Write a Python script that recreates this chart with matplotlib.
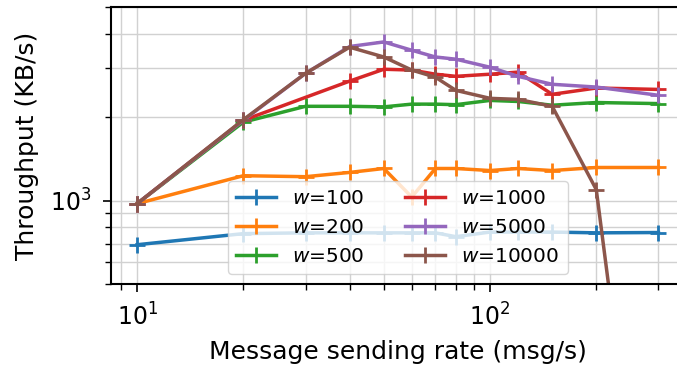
import matplotlib
matplotlib.use("Agg")
import matplotlib.pyplot as plt
from matplotlib.ticker import NullFormatter

# message sending rates (msg/s)
rates = [10, 20, 30, 40, 50, 60, 70, 80, 100, 120, 150, 200, 300]
rates_w1000 = [10, 20, 40, 50, 60, 70, 80, 100, 120, 150, 200, 300]

# throughput (KB/s) per window size
tp_w100 = [693, 760, 765, 765, 765, 765, 765, 741, 770, 770, 770, 765, 767]
tp_w200 = [975, 1230, 1220, 1264, 1306, 1030, 1306, 1306, 1284, 1306, 1284, 1317, 1317]
tp_w500 = [975, 1920, 2190, 2190, 2180, 2230, 2230, 2220, 2300, 2280, 2210, 2260, 2240]
tp_w1000 = [975, 1950, 2700, 2980, 2960, 2860, 2810, 2860, 2910, 2420, 2550, 2520]
tp_w5000 = [975, 1950, 2880, 3600, 3740, 3490, 3300, 3240, 3030, 2810, 2630, 2570, 2400]
tp_w10000 = [975, 1960, 2880, 3580, 3300, 2960, 2790, 2500, 2340, 2320, 2190, 1096, 20]

series = [
    ("$w$=100", rates, tp_w100),
    ("$w$=200", rates, tp_w200),
    ("$w$=500", rates, tp_w500),
    ("$w$=1000", rates_w1000, tp_w1000),
    ("$w$=5000", rates, tp_w5000),
    ("$w$=10000", rates, tp_w10000),
]

fig = plt.figure(figsize=(6.77, 3.69), dpi=100)
ax = fig.add_axes([111 / 677, 1 - 284 / 369, (684.5 - 111) / 677, (284 - 7) / 369])

for label, x, y in series:
    ax.plot(x, y, marker="+", markersize=12, markeredgewidth=2, linewidth=2.5, label=label)

ax.set_xscale("log")
ax.set_yscale("log")
ax.set_xlim(10 ** 0.926, 10 ** 2.551)
ax.set_ylim(500, 5000)
ax.yaxis.set_minor_formatter(NullFormatter())

ax.grid(which="both", color="0.82", linewidth=1)
ax.set_axisbelow(True)
for s in ax.spines.values():
    s.set_linewidth(1.5)
ax.tick_params(which="major", labelsize=17, length=6, width=1.2, pad=8)
ax.tick_params(which="minor", length=4, width=1)

ax.set_xlabel("Message sending rate (msg/s)", fontsize=18, labelpad=7)
ax.set_ylabel("Throughput (KB/s)", fontsize=18, labelpad=8)
ax.legend(loc="lower center", ncol=2, fontsize=14.5)

fig.savefig("out.png", dpi=100)
